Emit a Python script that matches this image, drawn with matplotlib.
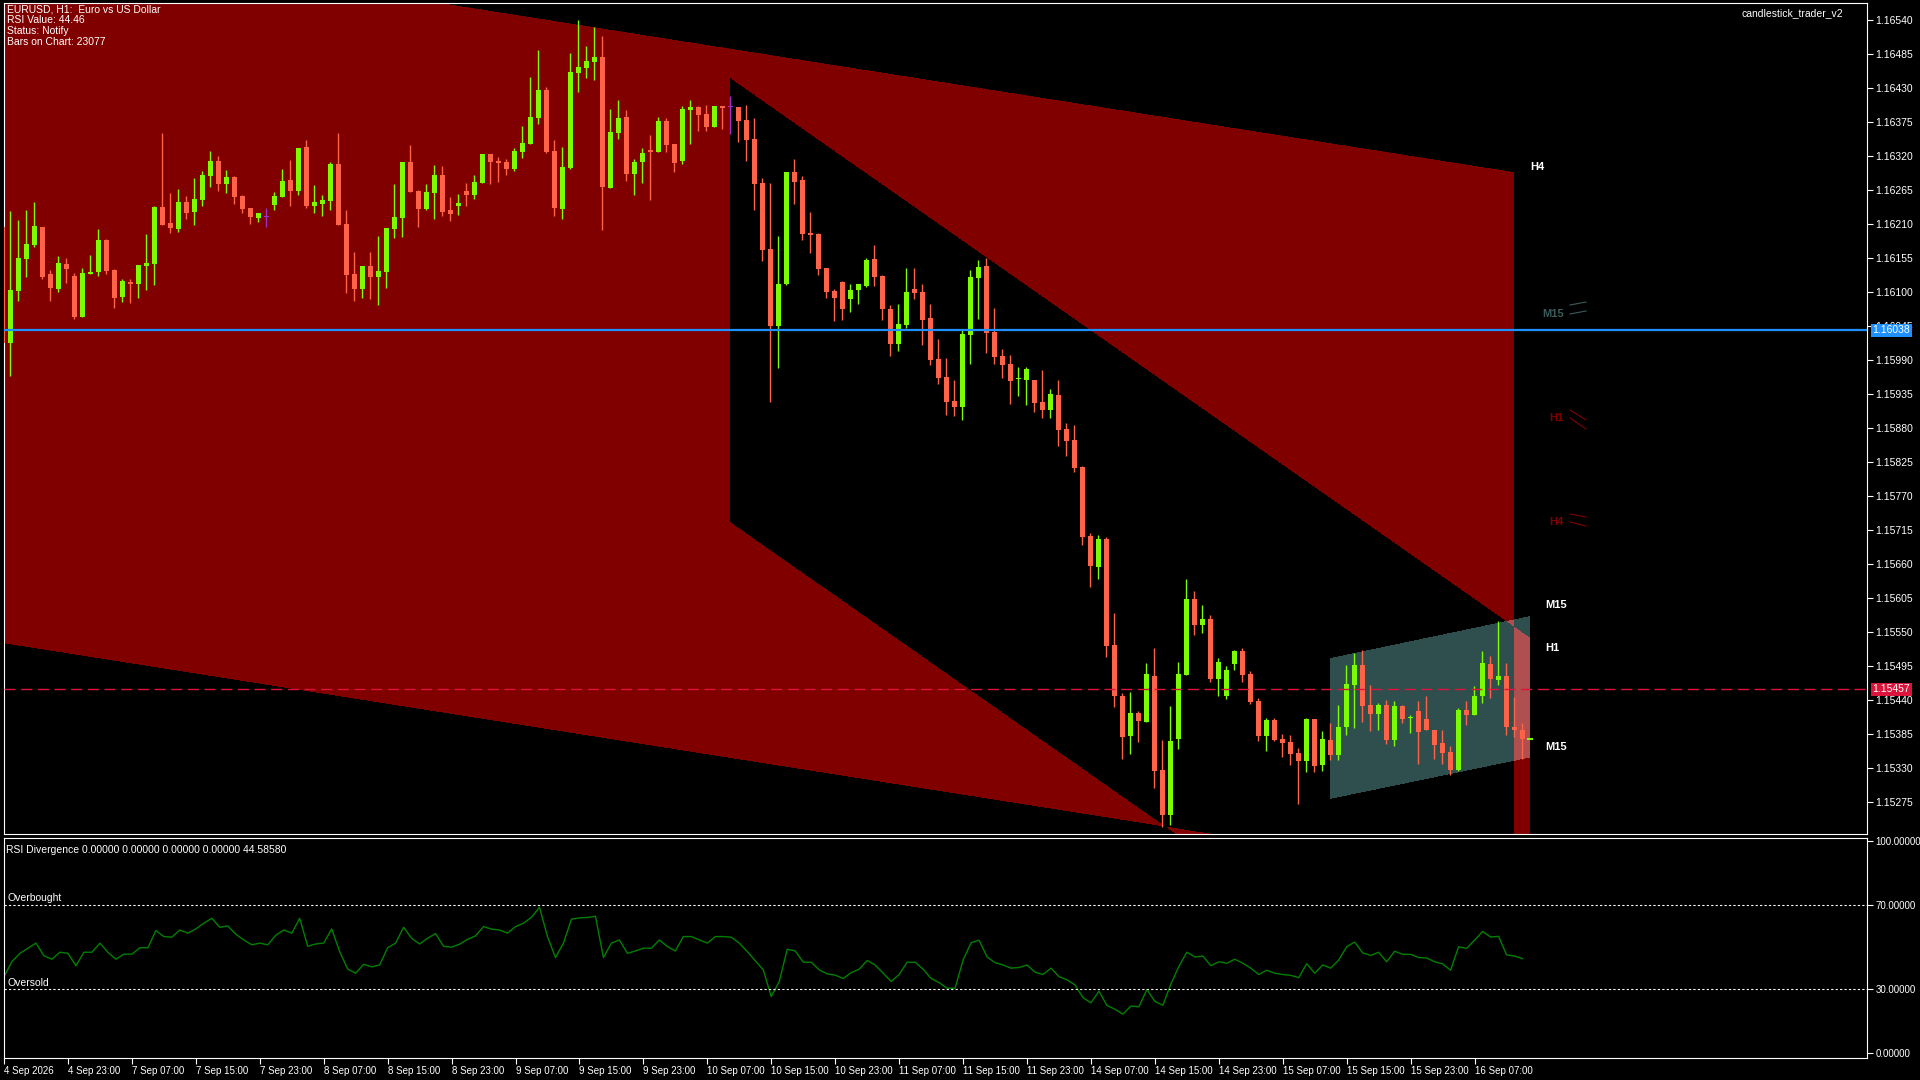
import numpy as np
import matplotlib
matplotlib.use("Agg")
import matplotlib.pyplot as plt
from matplotlib.path import Path

plt.rcParams['font.family'] = ['Liberation Sans', 'DejaVu Sans']

# ---- EURUSD H1 candles (prices in points, /1e5) ----
opens = [116205,116017,116101,116153,116176,116205,116129,116104,116145,116125,
         116059,116129,116132,116184,116135,116091,116116,116112,116142,116145,
         116237,116211,116201,116245,116229,116248,116287,116312,116274,116286,
         116255,116235,116219,116221,116240,116253,116281,116263,116334,116239,
         116242,116247,116307,116210,116129,116104,116142,116124,116132,116201,
         116219,116310,116263,116234,116260,116289,116232,116239,116263,116256,
         116276,116323,116312,116310,116299,116326,116339,116381,116426,116328,
         116234,116300,116454,116462,116472,116480,116268,116357,116383,116290,
         116310,116329,116326,116376,116339,116312,116394,116399,116388,116367,
         116400,116399,116399,116378,116347,116276,116169,116045,116112,116294,
         116281,116195,116193,116138,116101,116116,116088,116103,116109,116153,
         116125,116072,116015,116046,116104,116100,116057,115991,115962,115923,
         115913,116030,116122,116142,116035,115996,115983,115959,115957,115957,
         115922,115909,115933,115878,115860,115816,115705,115655,115700,115528,
         115447,115381,115418,115404,115478,115326,115253,115376,115480,115603,
         115561,115570,115473,115447,115498,115519,115481,115438,115381,115407,
         115376,115371,115354,115341,115409,115334,115375,115350,115396,115464,
         115496,115431,115417,115431,115375,115430,115410,115422,115409,115392,
         115370,115355,115326,115423,115415,115446,115498,115472,115478,115396,
         115392]
highs = [116205,116231,116216,116232,116245,116205,116135,116158,116155,116130,
         116138,116159,116201,116185,116137,116121,116121,116143,116193,116239,
         116357,116260,116266,116255,116284,116295,116328,116320,116297,116287,
         116256,116235,116227,116235,116261,116299,116313,116333,116345,116273,
         116256,116310,116357,116232,116164,116142,116164,116190,116203,116274,
         116310,116337,116265,116274,116305,116303,116253,116258,116276,116289,
         116323,116323,116318,116315,116333,116368,116447,116491,116431,116345,
         116334,116486,116540,116498,116528,116514,116396,116410,116394,116315,
         116333,116354,116383,116381,116339,116400,116410,116400,116402,116400,
         116400,116417,116399,116402,116381,116284,116276,116190,116294,116315,
         116287,116229,116195,116138,116104,116117,116112,116112,116155,116176,
         116127,116079,116080,116138,116138,116112,116080,116023,115993,115957,
         116038,116135,116151,116155,116074,116007,115998,115978,115978,115957,
         115973,115943,115957,115888,115884,115818,115710,115706,115703,115580,
         115451,115452,115422,115499,115524,115375,115430,115502,115635,115616,
         115593,115577,115507,115494,115520,115524,115486,115443,115410,115410,
         115384,115383,115362,115410,115409,115389,115402,115431,115496,115515,
         115520,115464,115435,115439,115438,115431,115415,115438,115447,115392,
         115392,115365,115426,115438,115462,115519,115511,115567,115499,115444,
         115402]
lows = [116017,115964,116085,116124,116172,116121,116085,116100,116114,116056,
        116059,116129,116125,116129,116074,116083,116082,116090,116103,116111,
        116208,116195,116197,116218,116208,116239,116269,116263,116260,116242,
        116227,116210,116213,116205,116232,116253,116239,116256,116235,116227,
        116223,116232,116208,116098,116085,116090,116088,116079,116106,116187,
        116189,116261,116205,116232,116218,116223,116214,116224,116239,116250,
        116276,116274,116278,116289,116295,116316,116339,116371,116324,116223,
        116218,116299,116423,116446,116443,116200,116268,116347,116279,116256,
        116276,116248,116326,116326,116294,116307,116339,116360,116360,116367,
        116363,116355,116342,116312,116232,116150,115922,115977,116111,116242,
        116184,116163,116127,116090,116053,116054,116067,116080,116108,116109,
        116054,115996,116004,116041,116088,116014,115981,115951,115901,115899,
        115892,115983,116056,116001,115983,115960,115918,115931,115917,115905,
        115896,115896,115850,115834,115808,115690,115622,115635,115509,115428,
        115344,115352,115371,115404,115297,115234,115237,115360,115480,115545,
        115548,115469,115446,115441,115488,115469,115433,115373,115357,115373,
        115347,115334,115271,115323,115323,115325,115342,115342,115383,115394,
        115404,115389,115391,115368,115365,115402,115386,115336,115391,115344,
        115337,115318,115325,115399,115415,115435,115443,115464,115383,115380,
        115344]
closes = [116017,116103,116155,116177,116206,116124,116106,116146,116137,116059,
          116130,116132,116184,116134,116090,116117,116112,116143,116146,116237,
          116208,116203,116245,116227,116250,116289,116312,116274,116286,116253,
          116234,116221,116227,116221,116255,116279,116263,116333,116239,116245,
          116248,116307,116208,116127,116104,116142,116124,116134,116203,116221,
          116310,116261,116234,116261,116289,116229,116226,116244,116256,116278,
          116323,116310,116308,116299,116328,116341,116383,116426,116326,116235,
          116302,116456,116464,116473,116480,116269,116358,116381,116290,116310,
          116324,116326,116376,116337,116308,116396,116399,116386,116367,116400,
          116397,116399,116376,116345,116274,116167,116045,116112,116294,116278,
          116193,116192,116137,116100,116090,116072,116103,116112,116151,116124,
          116072,116015,116048,116100,116098,116054,115990,115960,115922,115913,
          116032,116124,116140,116033,115994,115981,115956,115959,115975,115920,
          115909,115935,115876,115858,115815,115703,115656,115700,115527,115446,
          115380,115418,115405,115481,115325,115253,115373,115481,115603,115561,
          115570,115473,115501,115488,115519,115480,115436,115381,115407,115375,
          115370,115352,115341,115409,115333,115376,115350,115396,115465,115496,
          115430,115417,115431,115375,115430,115409,115410,115388,115391,115367,
          115354,115326,115423,115415,115447,115499,115473,115478,115396,115391,
          115376]
marked_bars = [33, 91]   # purple marker candles

rsi = [36.0,43.1,47.0,49.4,51.8,45.8,44.2,47.5,47.0,41.1,
       47.5,47.5,51.8,47.5,44.2,46.6,46.6,49.6,49.6,57.7,
       54.9,54.6,58.0,56.5,58.5,61.2,63.5,59.3,59.9,56.0,
       53.3,51.0,51.8,51.0,55.5,58.0,56.5,63.5,50.3,51.4,
       51.8,58.5,47.8,39.6,37.6,41.8,40.6,41.5,49.6,51.8,
       59.3,54.1,51.4,54.1,56.3,50.3,49.9,51.3,53.6,55.2,
       59.6,58.4,58.0,56.5,59.6,61.2,64.0,68.7,54.9,45.0,
       51.8,63.1,63.7,63.9,64.5,45.0,51.8,53.3,47.0,48.1,
       49.4,49.4,53.3,50.2,48.1,54.9,54.9,53.3,51.8,54.9,
       54.9,54.6,51.8,47.8,43.5,39.2,26.6,33.7,48.9,48.1,
       42.8,42.8,39.2,37.3,36.7,35.1,37.9,39.5,43.6,41.5,
       37.6,33.7,37.0,42.8,42.8,39.5,35.1,33.2,30.5,30.5,
       43.8,52.0,53.2,45.3,42.6,41.5,40.0,40.3,41.5,38.1,
       37.0,40.0,36.0,34.5,32.1,26.1,23.6,29.1,22.4,20.6,
       18.3,22.1,21.8,29.9,24.3,22.5,32.5,40.8,47.5,45.3,
       45.7,41.2,43.0,42.3,44.2,42.3,40.0,37.0,39.0,37.6,
       37.0,36.6,35.5,42.1,37.6,41.5,40.0,43.8,50.1,52.3,
       47.2,46.0,47.5,43.0,48.0,46.5,46.5,45.0,44.8,43.0,
       42.0,39.0,50.1,49.3,53.2,57.3,54.7,55.0,46.3,45.7,
       44.5]

time_labels = ["4 Sep 2026", "4 Sep 23:00", "7 Sep 07:00", "7 Sep 15:00", "7 Sep 23:00",
               "8 Sep 07:00", "8 Sep 15:00", "8 Sep 23:00", "9 Sep 07:00", "9 Sep 15:00",
               "9 Sep 23:00", "10 Sep 07:00", "10 Sep 15:00", "10 Sep 23:00", "11 Sep 07:00",
               "11 Sep 15:00", "11 Sep 23:00", "14 Sep 07:00", "14 Sep 15:00", "14 Sep 23:00",
               "15 Sep 07:00", "15 Sep 15:00", "15 Sep 23:00", "16 Sep 07:00"]
price_ticks = [1.15275, 1.15330, 1.15385, 1.15440, 1.15495, 1.15550, 1.15605, 1.15660,
               1.15715, 1.15770, 1.15825, 1.15880, 1.15935, 1.15990, 1.16045, 1.16100,
               1.16155, 1.16210, 1.16265, 1.16320, 1.16375, 1.16430, 1.16485, 1.16540]
blue_level = 1.16038
red_level = 1.15457

# channel objects: (bar, price) corners
channel_big = [(-0.3, 1.16680), (189.0, 1.16294), (189.0, 1.15145), (-0.3, 1.15532)]
channel_down = [(91.0, 1.16446), (191.0, 1.15540), (191.0, 1.14821), (91.0, 1.15727)]
channel_box = [(166.0, 1.15507), (191.0, 1.15575), (191.0, 1.15346), (166.0, 1.15279)]

W, H = 1920, 1080
FS = 7.5
fig = plt.figure(figsize=(19.2, 10.8), dpi=100, facecolor="black")

def fx(px):
    return px / W

def fy(py):
    return 1 - py / H

XMIN, XMAX = 0.2, 233.1
YMIN, YMAX = 1.15223, 1.165671

ax = fig.add_axes([fx(4), fy(834), fx(1867) - fx(4), fy(3) - fy(834)], facecolor="black")
ax.set_xlim(XMIN, XMAX)
ax.set_ylim(YMIN, YMAX)

# background objects drawn MT5-style (overlapping fills XOR)
nx, ny = 1863, 831
gx = np.linspace(XMIN, XMAX, nx)
gy = np.linspace(YMAX, YMIN, ny)
GX, GY = np.meshgrid(gx, gy)
pts = np.column_stack([GX.ravel(), GY.ravel()])
m_big = Path(channel_big).contains_points(pts).reshape(ny, nx)
m_down = Path(channel_down).contains_points(pts).reshape(ny, nx)
m_box = Path(channel_box).contains_points(pts).reshape(ny, nx)
img = np.zeros((ny, nx, 3), dtype=np.uint8)
red = np.array([128, 0, 0], dtype=np.uint8)
teal = np.array([47, 79, 79], dtype=np.uint8)
img[m_big ^ m_down] = red
img[m_box] = img[m_box] ^ teal
ax.imshow(img, extent=[XMIN, XMAX, YMIN, YMAX], aspect="auto", interpolation="nearest", zorder=0)

o = np.array(opens) / 1e5
h = np.array(highs) / 1e5
l = np.array(lows) / 1e5
c = np.array(closes) / 1e5
x = np.arange(len(o))
bull = c >= o
cols = np.where(bull, "#7CFC00", "#FF6347").astype(object)
for i in marked_bars:
    cols[i] = "#9932CC"
ax.vlines(x, l, h, colors=list(cols), linewidth=1, zorder=3)
body_lo = np.minimum(o, c)
body_h = np.maximum(np.abs(c - o), 0.000018)
ax.bar(x, body_h, bottom=body_lo, width=0.62, color=list(cols), linewidth=0, zorder=4)

ax.axhline(blue_level, color="#1E90FF", linewidth=1.6, zorder=5)
ax.axhline(red_level, color="#DC143C", linewidth=1.0, linestyle=(0, (8, 4)), zorder=5)
ax.hlines(c[-1], len(c) - 0.4, len(c) + 0.4, colors="#7CFC00", linewidth=1.5, zorder=5)

ax.set_xticks([])
ax.yaxis.tick_right()
ax.set_yticks(price_ticks)
ax.set_yticklabels([f"{p:.5f}" for p in price_ticks])
ax.tick_params(axis="y", colors="white", labelcolor="white", labelsize=FS, length=4, pad=2)
for s in ax.spines.values():
    s.set_color("white")

# price tags
for lvl, bg in [(blue_level, "#1E90FF"), (red_level, "#DC143C")]:
    ax.text(1.003, (lvl - YMIN) / (YMAX - YMIN), f"{lvl:.5f}", transform=ax.transAxes,
            fontsize=FS, color="white", va="center", ha="left", zorder=10,
            bbox=dict(boxstyle="square,pad=0.15", facecolor=bg, edgecolor="none"), clip_on=False)

# info text
for i, t in enumerate(["EURUSD, H1:  Euro vs US Dollar", "RSI Value: 44.46", "Status: Notify",
                       "Bars on Chart: 23077"]):
    fig.text(fx(7), fy(9 + 11 * i), t, color="white", fontsize=FS, va="center", ha="left")
fig.text(fx(1843), fy(13), "candlestick_trader_v2", color="white", fontsize=FS, va="center", ha="right")

# timeframe labels
tf_labels = [("H4", 1530, 167, "white"), ("M15", 1542, 314, "#3C5C5C"), ("H1", 1549, 418, "#800000"),
             ("H4", 1549, 522, "#800000"), ("M15", 1545, 605, "white"), ("H1", 1545, 648, "white"),
             ("M15", 1545, 747, "white")]
for t, px, py, col in tf_labels:
    fig.text(fx(px), fy(py), t, color=col, fontsize=8, fontweight="bold", va="center", ha="left")
tf_marks = [((1570, 305), (1586, 302), "#3C5C5C"), ((1570, 314), (1586, 311), "#3C5C5C"),
            ((1570, 410), (1586, 420), "#800000"), ((1570, 418), (1586, 429), "#800000"),
            ((1570, 514), (1586, 517), "#800000"), ((1570, 522), (1586, 526), "#800000")]
for (x0, y0), (x1, y1), col in tf_marks:
    fig.add_artist(plt.Line2D([fx(x0), fx(x1)], [fy(y0), fy(y1)], color=col, linewidth=0.8,
                              transform=fig.transFigure))

# ---- RSI panel ----
ax2 = fig.add_axes([fx(4), fy(1058), fx(1867) - fx(4), fy(838) - fy(1058)], facecolor="black")
ax2.set_xlim(XMIN, XMAX)
ax2.set_ylim(-2.4, 101.4)
ax2.plot(np.arange(len(rsi)), rsi, color="#008000", linewidth=1)
ax2.axhline(70, color="white", linewidth=0.8, linestyle=(0, (2, 2)))
ax2.axhline(30, color="white", linewidth=0.8, linestyle=(0, (2, 2)))
ax2.yaxis.tick_right()
ax2.set_yticks([0, 30, 70, 100])
ax2.set_yticklabels(["0.00000", "30.00000", "70.00000", "100.00000"])
ax2.set_xticks(np.arange(len(time_labels)) * 8)
ax2.set_xticklabels(time_labels, ha="left")
ax2.tick_params(axis="both", colors="white", labelcolor="white", labelsize=7, length=4, pad=2)
for s in ax2.spines.values():
    s.set_color("white")
ax2.text(0.001, 0.97, "RSI Divergence 0.00000 0.00000 0.00000 0.00000 44.58580", transform=ax2.transAxes,
         color="white", fontsize=FS, va="top", ha="left")
ax2.text(0.5, 70.5, "Overbought", color="white", fontsize=FS, va="bottom", ha="left")
ax2.text(0.5, 30.5, "Oversold", color="white", fontsize=FS, va="bottom", ha="left")

fig.savefig("out.png", dpi=100, facecolor="black")
